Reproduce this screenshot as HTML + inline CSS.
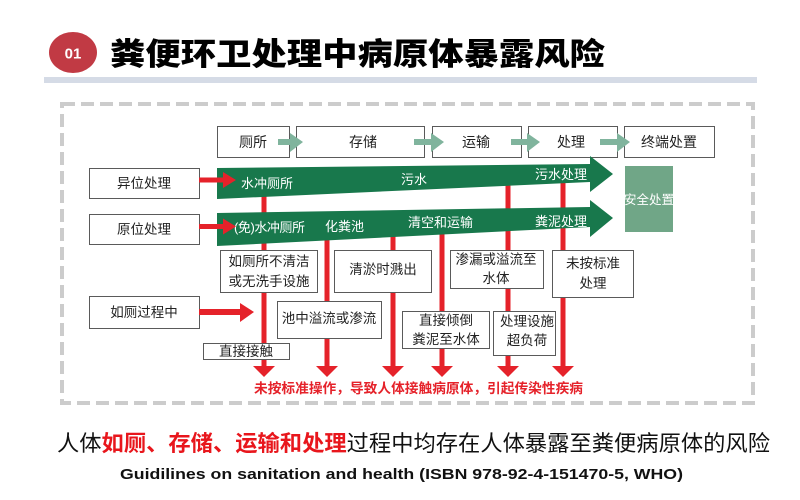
<!DOCTYPE html>
<html>
<head>
<meta charset="utf-8">
<style>
  html,body{margin:0;padding:0;background:#fff;}
  body{width:800px;height:500px;overflow:hidden;}
  svg{display:block;}
  text{font-family:"Liberation Sans","Noto Sans CJK SC",sans-serif;}
</style>
</head>
<body>
<svg width="800" height="500" viewBox="0 0 800 500" xmlns="http://www.w3.org/2000/svg">
  <!-- Title -->
  <ellipse cx="73" cy="52.5" rx="24" ry="20.5" fill="#c13a44"/>
  <text x="73" y="58.5" text-anchor="middle" font-size="15" font-weight="bold" fill="#fff" font-family="Liberation Sans, sans-serif">01</text>
  <text x="110" y="65" font-size="31" font-weight="900" fill="#000" textLength="495" lengthAdjust="spacingAndGlyphs">粪便环卫处理中病原体暴露风险</text>
  <rect x="44" y="77" width="713" height="6" fill="#d5dbe6"/>

  <!-- Dashed frame -->
  <rect x="62" y="104" width="691" height="299" fill="none" stroke="#cccccc" stroke-width="4" stroke-dasharray="13 6"/>

  <!-- Top stage boxes -->
  <g fill="#fff" stroke="#5a5a5a" stroke-width="1">
    <rect x="217.5" y="126.5" width="72" height="31"/>
    <rect x="296.5" y="126.5" width="128" height="31"/>
    <rect x="432.5" y="126.5" width="89" height="31"/>
    <rect x="528.5" y="126.5" width="89" height="31"/>
    <rect x="624.5" y="126.5" width="90" height="31"/>
  </g>
  <g font-size="14" fill="#222" text-anchor="middle">
    <text x="253" y="147">厕所</text>
    <text x="363" y="147">存储</text>
    <text x="476" y="147">运输</text>
    <text x="571" y="147">处理</text>
    <text x="669" y="147">终端处置</text>
  </g>
  <!-- light green arrows -->
  <g fill="#80b49d">
    <polygon points="278,139 290,139 290,133 303,142 290,152 290,145 278,145"/>
    <polygon points="414,139 431,139 431,133 444,142 431,152 431,145 414,145"/>
    <polygon points="511,139 527,139 527,133 540,142 527,152 527,145 511,145"/>
    <polygon points="600,139 617,139 617,133 630,142 617,152 617,145 600,145"/>
  </g>

  <!-- Red vertical lines -->
  <g fill="#e5222a">
    <rect x="261.5" y="195" width="5" height="172"/>
    <rect x="324.5" y="236" width="5" height="131"/>
    <rect x="390.5" y="232" width="5" height="135"/>
    <rect x="439.5" y="230" width="5" height="137"/>
    <rect x="505.5" y="183" width="5" height="184"/>
    <rect x="560.5" y="181" width="5" height="186"/>
    <polygon points="253,366 275,366 264,377"/>
    <polygon points="316,366 338,366 327,377"/>
    <polygon points="382,366 404,366 393,377"/>
    <polygon points="431,366 453,366 442,377"/>
    <polygon points="497,366 519,366 508,377"/>
    <polygon points="552,366 574,366 563,377"/>
  </g>

  <!-- Green bands -->
  <g fill="#18784c">
    <polygon points="217,168 590,164 590,156 613,174 590,192 590,182 217,199"/>
    <polygon points="217,213 590,207 590,200 613,218 590,237 590,227 217,246"/>
  </g>
  <g font-size="13" fill="#fff">
    <text x="241" y="188">水冲厕所</text>
    <text x="401" y="184">污水</text>
    <text x="535" y="179">污水处理</text>
    <text x="234" y="232" textLength="71">(免)水冲厕所</text>
    <text x="325" y="231">化粪池</text>
    <text x="408" y="227">清空和运输</text>
    <text x="535" y="226">粪泥处理</text>
  </g>

  <!-- Safe disposal -->
  <rect x="625" y="166" width="48" height="66" fill="#70a687"/>
  <text x="649" y="204" font-size="12.5" fill="#fff" text-anchor="middle">安全处置</text>

  <!-- Left boxes -->
  <g fill="#fff" stroke="#5a5a5a" stroke-width="1">
    <rect x="89.5" y="168.5" width="110" height="30"/>
    <rect x="89.5" y="214.5" width="110" height="30"/>
    <rect x="89.5" y="296.5" width="110" height="32"/>
  </g>
  <g font-size="13.5" fill="#222" text-anchor="middle">
    <text x="144" y="188">异位处理</text>
    <text x="144" y="234">原位处理</text>
    <text x="144" y="317">如厕过程中</text>
  </g>
  <!-- Red horizontal arrows -->
  <g fill="#e5222a">
    <polygon points="199,177.5 223,177.5 223,172 236,180 223,188 223,182.5 199,182.5"/>
    <polygon points="199,224 223,224 223,218.5 236,226.5 223,234.5 223,229 199,229"/>
    <polygon points="199,309 240,309 240,303 254,312 240,322 240,315 199,315"/>
  </g>

  <!-- Middle boxes -->
  <g fill="#fff" stroke="#5a5a5a" stroke-width="1">
    <rect x="220.5" y="250.5" width="97" height="42"/>
    <rect x="334.5" y="250.5" width="97" height="42"/>
    <rect x="450.5" y="250.5" width="93" height="38"/>
    <rect x="552.5" y="250.5" width="81" height="47"/>
    <rect x="277.5" y="301.5" width="104" height="37"/>
    <rect x="203.5" y="343.5" width="86" height="16"/>
    <rect x="402.5" y="311.5" width="87" height="37"/>
    <rect x="493.5" y="311.5" width="62" height="44"/>
  </g>
  <g font-size="13.5" fill="#222" text-anchor="middle">
    <text x="269" y="266">如厕所不清洁</text>
    <text x="269" y="286">或无洗手设施</text>
    <text x="383" y="274">清淤时溅出</text>
    <text x="496" y="264">渗漏或溢流至</text>
    <text x="496" y="283">水体</text>
    <text x="593" y="268">未按标准</text>
    <text x="593" y="288">处理</text>
    <text x="329" y="323">池中溢流或渗流</text>
    <text x="246" y="356">直接接触</text>
    <text x="446" y="325">直接倾倒</text>
    <text x="446" y="344">粪泥至水体</text>
    <text x="527" y="326">处理设施</text>
    <text x="527" y="345">超负荷</text>
  </g>

  <!-- Red note -->
  <text x="254" y="393" font-size="13.5" font-weight="bold" fill="#e5222a" textLength="329" lengthAdjust="spacingAndGlyphs">未按标准操作，导致人体接触病原体，引起传染性疾病</text>

  <!-- Bottom text -->
  <text x="57" y="451" font-size="22" fill="#111" textLength="713" lengthAdjust="spacingAndGlyphs">人体<tspan fill="#e8161c" font-weight="bold">如厕、存储、运输和处理</tspan>过程中均存在人体暴露至粪便病原体的风险</text>
  <text x="120" y="479" font-size="15" font-weight="bold" fill="#111" textLength="563" lengthAdjust="spacingAndGlyphs">Guidilines on sanitation and health (ISBN 978-92-4-151470-5, WHO)</text>
</svg>
</body>
</html>
